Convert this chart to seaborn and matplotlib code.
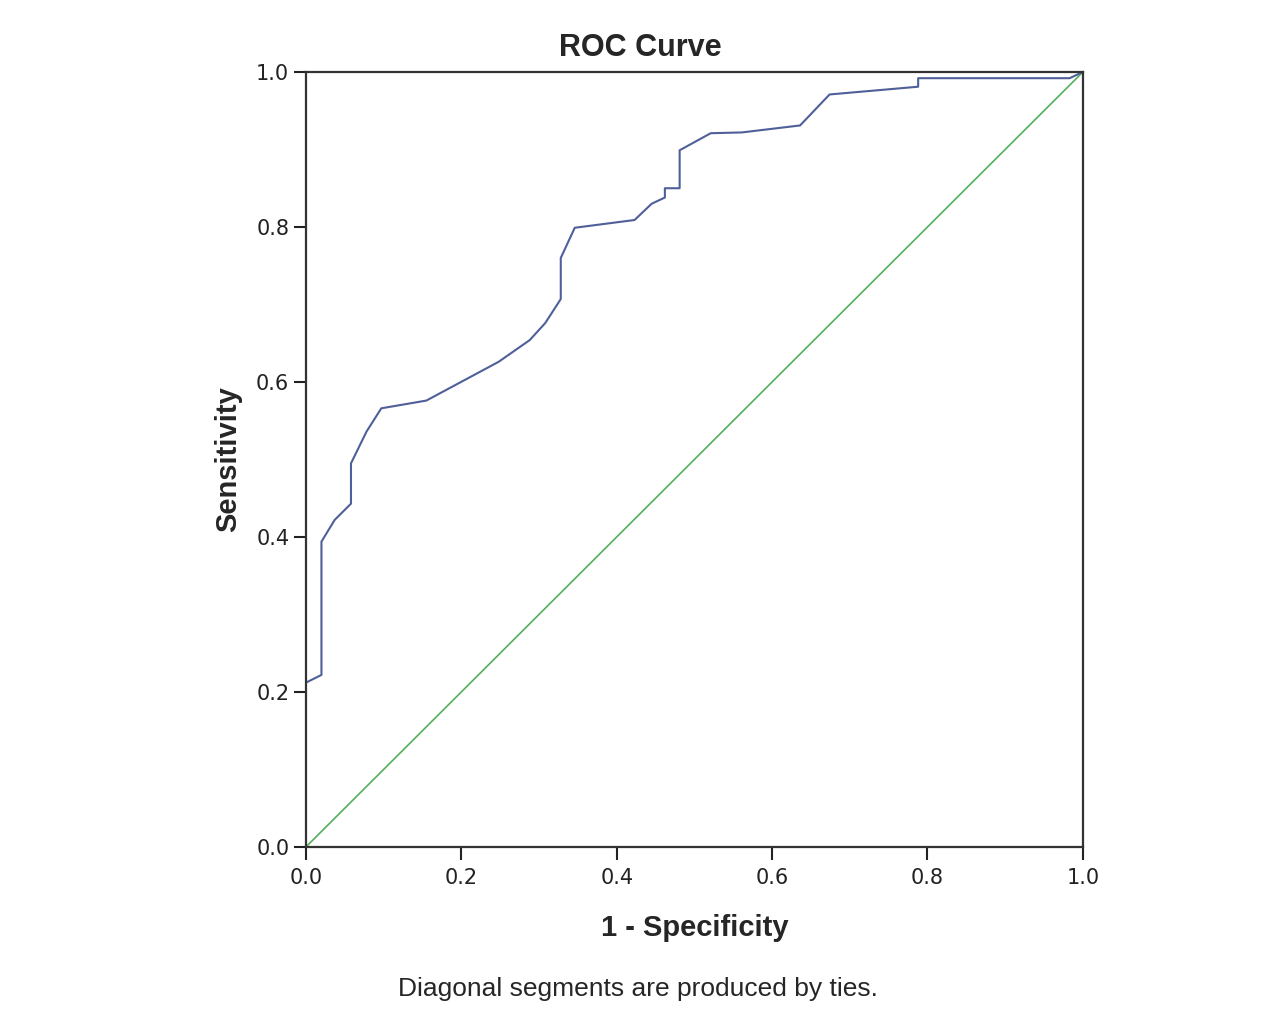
import matplotlib
matplotlib.use("Agg")
import matplotlib.pyplot as plt
import seaborn as sns

# ROC points (1 - specificity, sensitivity)
fpr = [0.0, 0.0, 0.020, 0.020, 0.037, 0.058, 0.058, 0.078, 0.097, 0.155,
       0.248, 0.288, 0.308, 0.328, 0.328, 0.346, 0.423, 0.445, 0.462, 0.462,
       0.481, 0.481, 0.521, 0.561, 0.636, 0.674, 0.788, 0.788, 0.983, 1.0]
tpr = [0.0, 0.212, 0.222, 0.394, 0.422, 0.443, 0.495, 0.536, 0.566, 0.576,
       0.626, 0.654, 0.676, 0.707, 0.760, 0.799, 0.809, 0.830, 0.838, 0.850,
       0.850, 0.899, 0.921, 0.922, 0.931, 0.971, 0.981, 0.992, 0.992, 1.0]
ref_line = [0.0, 1.0]
ticks = [0.0, 0.2, 0.4, 0.6, 0.8, 1.0]

sns.set_style("white")
plt.rcParams['font.family'] = ['DejaVu Sans']

fig = plt.figure(figsize=(12.8, 10.24), dpi=100)
ax = fig.add_axes([0.239, 0.1729, 0.607, 0.7568])

# diagonal reference, then the ROC curve
sns.lineplot(x=ref_line, y=ref_line, ax=ax, color="#52b05c", linewidth=1.2)
sns.lineplot(x=fpr, y=tpr, ax=ax, sort=False, estimator=None,
             color="#4f5f9a", linewidth=1.5)

ax.set_xlim(0, 1)
ax.set_ylim(0, 1)
ax.set_xticks(ticks)
ax.set_yticks(ticks)
ax.set_xticklabels([f"{t:.1f}" for t in ticks])
ax.set_yticklabels([f"{t:.1f}" for t in ticks])
ax.tick_params(axis="both", bottom=True, left=True, direction="out",
               length=9, width=1.5, color="#222222", labelsize=15,
               labelcolor="#222222")
ax.tick_params(axis="x", pad=6)
ax.tick_params(axis="y", pad=3)
for s in ax.spines.values():
    s.set_visible(True)
    s.set_color("#333333")
    s.set_linewidth(1.6)

ax.set_xlabel("1 - Specificity", fontsize=21, fontweight="bold",
              family="Liberation Sans", labelpad=19)
ax.set_ylabel("Sensitivity", fontsize=21, fontweight="bold",
              family="Liberation Sans", labelpad=10)
fig.text(0.5, 0.953, "ROC Curve", ha="center", va="center", fontsize=22,
         fontweight="bold", family="Liberation Sans")
fig.text(0.498, 0.034, "Diagonal segments are produced by ties.",
         ha="center", va="center", fontsize=19, family="Liberation Sans")

fig.savefig("out.png", dpi=100, facecolor="white")
